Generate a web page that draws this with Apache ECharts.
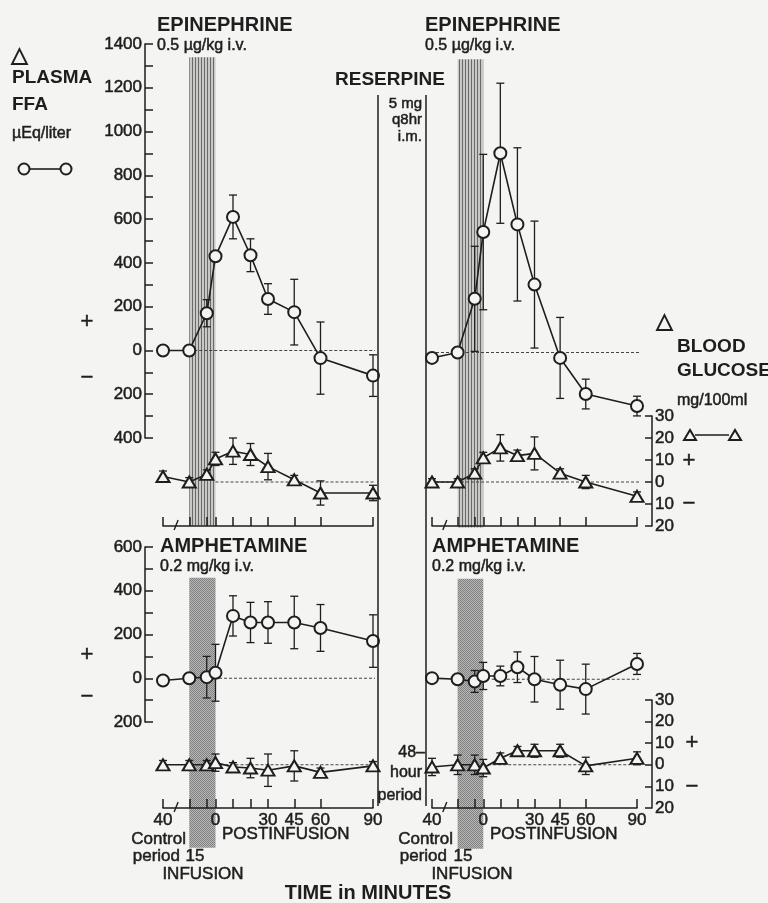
<!DOCTYPE html>
<html><head><meta charset="utf-8">
<script src="https://cdn.jsdelivr.net/npm/echarts@6/dist/echarts.min.js"></script>
<style>html,body{margin:0;padding:0;background:#f4f4f2}#c{width:768px;height:903px}</style>
</head><body><div id="c"></div>
<script>
// ---- data ----
const timePoints = [-30, -15, -5, 0, 10, 20, 30, 45, 60, 90];
const timeTickValues = [-30, -15, -5, 0, 10, 20, 30, 45, 60, 90];
const timeLabelValues = [-30, 0, 30, 45, 60, 90];
const timeLabelText = {"-30": "40", "0": "0", "30": "30", "45": "45", "60": "60", "90": "90"};

// Epinephrine, control (top-left)
const epiCtrlFFA    = [0, 0, 170, 430, 610, 435, 235, 175, -35, -115];
const epiCtrlFFAErr = [10, 10, 62, 15, 100, 75, 70, 150, 165, 95];
const epiCtrlGlu    = [2.5, 0, 3.5, 10.5, 14, 12.5, 7, 1, -5, -5];
const epiCtrlGluErr = [2.5, 2, 2, 3, 6, 5, 6, 2, 5.5, 3.5];
// Epinephrine, after reserpine (top-right)
const epiResFFA     = [-25, 0, 245, 550, 910, 585, 310, -25, -190, -245];
const epiResFFAErr  = [10, 10, 240, 355, 320, 350, 290, 185, 68, 45];
const epiResGlu     = [0, 0, 4, 11, 15.5, 12, 13, 4, 0, -6.5];
const epiResGluErr  = [1.5, 1.5, 2, 2.5, 6, 2.5, 7.5, 2, 3, 2];
// Amphetamine, control (bottom-left)
const ampCtrlFFA    = [-10, 0, 5, 25, 285, 255, 255, 255, 230, 170];
const ampCtrlFFAErr = [10, 10, 95, 130, 92, 92, 95, 120, 107, 120];
const ampCtrlGlu    = [0, 0, 0, 1, -1, -1.5, -2.5, -0.5, -3.5, -0.5];
const ampCtrlGluErr = [2, 2, 2, 4, 2, 4.5, 7.5, 7, 2, 2];
// Amphetamine, after reserpine (bottom-right)
const ampResFFA     = [5, 0, -10, 15, 15, 55, 0, -25, -45, 70];
const ampResFFAErr  = [8, 8, 50, 62, 45, 70, 104, 112, 114, 48];
const ampResGlu     = [-1, 0, 0, -1.5, 3, 6.5, 6.5, 6.5, -0.5, 3];
const ampResGluErr  = [4, 4.5, 4.5, 4, 2.5, 2, 3, 3, 4, 3];

const infusionWindow = [-15, 0];

// ---- styling ----
const INK = '#1e1e1e';
const BG = '#f4f4f2';
const FONT = 'Liberation Sans';

function makePattern(kind) {
  const c = document.createElement('canvas');
  const g = c.getContext('2d');
  if (kind === 'lines') {
    c.width = 3; c.height = 4;
    g.fillStyle = '#c8c8c5'; g.fillRect(0, 0, 3, 4);
    g.fillStyle = '#6a6a6a'; g.fillRect(0, 0, 1, 4);
  } else {
    c.width = 2; c.height = 2;
    g.fillStyle = '#b8b8b6'; g.fillRect(0, 0, 2, 2);
    g.fillStyle = '#808080'; g.fillRect(0, 0, 1, 1); g.fillRect(1, 1, 1, 1);
  }
  return { image: c, repeat: 'repeat' };
}
const patLines = makePattern('lines');
const patDots = makePattern('dots');

const grids = [
  { left: 163, width: 210, top: 44, height: 394 },   // TL FFA
  { left: 163, width: 210, top: 416, height: 110 },  // TL Glu
  { left: 432, width: 205, top: 46, height: 394 },   // TR FFA
  { left: 432, width: 205, top: 416, height: 110 },  // TR Glu
  { left: 163, width: 210, top: 547, height: 175 },  // BL FFA
  { left: 163, width: 210, top: 700, height: 108 },  // BL Glu
  { left: 432, width: 205, top: 548, height: 175 },  // BR FFA
  { left: 432, width: 205, top: 700, height: 108 }   // BR Glu
];

const labelStyle = { color: INK, fontFamily: FONT, fontSize: 17, textBorderColor: INK, textBorderWidth: 0.5 };

const xAxes = [], yAxes = [];
for (let p = 0; p < 4; p++) {
  const bottomRow = p >= 2;
  const leftCol = p % 2 === 0;
  xAxes.push({ gridIndex: 2 * p, type: 'value', min: -30, max: 90, show: false });
  xAxes.push(Object.assign({
    gridIndex: 2 * p + 1, type: 'value', min: -30, max: 90, position: 'bottom',
    splitLine: { show: false },
    axisLine: { onZero: false, lineStyle: { color: INK, width: 1.5 } },
    axisTick: { inside: true, length: 9, lineStyle: { color: INK, width: 1.5 }, customValues: timeTickValues },
    axisLabel: Object.assign({
      show: bottomRow, customValues: timeLabelValues, margin: 4,
      formatter: v => timeLabelText[String(v)]
    }, labelStyle)
  }));
  yAxes.push({
    gridIndex: 2 * p, type: 'value', position: 'left',
    min: bottomRow ? -200 : -400, max: bottomRow ? 600 : 1400, interval: 200,
    show: leftCol, offset: 18,
    splitLine: { show: false },
    axisLine: { show: true, onZero: false, lineStyle: { color: INK, width: 1.5 } },
    axisTick: { inside: true, length: 8, lineStyle: { color: INK, width: 1.5 } },
    minorTick: { show: true, splitNumber: 2, length: 8, lineStyle: { color: INK, width: 1.5 } },
    axisLabel: Object.assign({ margin: 3, formatter: v => String(Math.abs(v)) }, labelStyle)
  });
  yAxes.push({
    gridIndex: 2 * p + 1, type: 'value', min: -20, max: 30, interval: 10,
    show: !leftCol, position: 'right', offset: 15,
    splitLine: { show: false },
    axisLine: { show: true, onZero: false, lineStyle: { color: INK, width: 1.5 } },
    axisTick: { inside: true, length: 7, lineStyle: { color: INK, width: 1.5 } },
    axisLabel: Object.assign({ margin: 3, formatter: v => String(Math.abs(v)) }, labelStyle)
  });
}

function errSeries(ax, vals, errs) {
  return {
    type: 'custom', xAxisIndex: ax, yAxisIndex: ax, z: 2, silent: true,
    data: timePoints.map((t, i) => [t, vals[i], errs[i]]),
    renderItem: (params, api) => {
      const x = api.value(0), y = api.value(1), e = api.value(2);
      const hi = api.coord([x, y + e]), lo = api.coord([x, y - e]);
      const w = 4, st = { stroke: INK, lineWidth: 1.3 };
      return { type: 'group', children: [
        { type: 'line', shape: { x1: hi[0], y1: hi[1], x2: lo[0], y2: lo[1] }, style: st },
        { type: 'line', shape: { x1: hi[0] - w, y1: hi[1], x2: hi[0] + w, y2: hi[1] }, style: st },
        { type: 'line', shape: { x1: lo[0] - w, y1: lo[1], x2: lo[0] + w, y2: lo[1] }, style: st }
      ] };
    }
  };
}
function lineSeries(ax, vals, symbol, size) {
  return {
    type: 'line', xAxisIndex: ax, yAxisIndex: ax, z: 4,
    data: timePoints.map((t, i) => [t, vals[i]]),
    symbol: symbol, symbolSize: size,
    itemStyle: { color: BG, borderColor: INK, borderWidth: 2 },
    lineStyle: { color: INK, width: 1.6 }, animation: false
  };
}
function zeroLine(ax, from, to) {
  return {
    type: 'line', xAxisIndex: ax, yAxisIndex: ax, z: 1, clip: false, silent: true,
    data: [[from, 0], [to, 0]], symbol: 'none',
    lineStyle: { color: '#444', width: 1.1, type: [3, 2] }, animation: false
  };
}
function band(ax, top, bottom, pat) {
  return {
    type: 'custom', xAxisIndex: ax, yAxisIndex: ax, z: 0, silent: true, clip: false,
    data: [[infusionWindow[0], infusionWindow[1], top, bottom]],
    encode: { x: [0, 1], y: [2, 3] },
    renderItem: (params, api) => {
      const a = api.coord([api.value(0), api.value(2)]);
      const b = api.coord([api.value(1), api.value(3)]);
      return { type: 'rect', shape: { x: a[0], y: a[1], width: b[0] - a[0], height: b[1] - a[1] }, style: { fill: pat } };
    }
  };
}
function breakMark(ax) {
  return {
    type: 'custom', xAxisIndex: ax, yAxisIndex: ax, z: 5, silent: true, clip: false,
    data: [[-22.5, -20]],
    renderItem: (params, api) => {
      const c = api.coord([api.value(0), api.value(1)]);
      return { type: 'line', shape: { x1: c[0] - 2, y1: c[1] + 4, x2: c[0] + 2, y2: c[1] - 6 }, style: { stroke: INK, lineWidth: 1.4 } };
    }
  };
}

const panels = [
  { ffa: epiCtrlFFA, ffaE: epiCtrlFFAErr, glu: epiCtrlGlu, gluE: epiCtrlGluErr, fz: [-15, 93], gz: [0, 93], band: [1340, -800], pat: patLines },
  { ffa: epiResFFA, ffaE: epiResFFAErr, glu: epiResGlu, gluE: epiResGluErr, fz: [-33.5, 98.8], gz: [-33.5, 98.8], band: [1340, -800], pat: patLines },
  { ffa: ampCtrlFFA, ffaE: ampCtrlFFAErr, glu: ampCtrlGlu, gluE: ampCtrlGluErr, fz: [2, 93], gz: [0, 93], band: [460, -775], pat: patDots },
  { ffa: ampResFFA, ffaE: ampResFFAErr, glu: ampResGlu, gluE: ampResGluErr, fz: [5, 96.5], gz: [0, 86], band: [460, -775], pat: patDots }
];
const series = [];
panels.forEach((pn, p) => {
  const fa = 2 * p, ga = 2 * p + 1;
  series.push(band(fa, pn.band[0], pn.band[1], pn.pat));
  series.push(zeroLine(fa, pn.fz[0], pn.fz[1]));
  series.push(zeroLine(ga, pn.gz[0], pn.gz[1]));
  series.push(errSeries(fa, pn.ffa, pn.ffaE));
  series.push(errSeries(ga, pn.glu, pn.gluE));
  series.push(lineSeries(fa, pn.ffa, 'circle', 12));
  series.push(lineSeries(ga, pn.glu, 'triangle', [13, 11]));
  series.push(breakMark(ga));
});

function T(text, x, y, size, opts) {
  opts = opts || {};
  return {
    type: 'text', x: x, y: y, z: 100, silent: true,
    style: {
      text: text, fill: INK, fontFamily: FONT, fontSize: size,
      fontWeight: opts.bold ? 'bold' : 'normal',
      stroke: opts.bold ? null : INK, lineWidth: opts.bold ? 0 : 0.5,
      textAlign: opts.align || 'left', textVerticalAlign: 'middle'
    }
  };
}
function L(x1, y1, x2, y2, w) {
  return { type: 'line', z: 50, silent: true, shape: { x1, y1, x2, y2 }, style: { stroke: INK, lineWidth: w || 1.5 } };
}

const graphics = [
  L(378, 95, 378, 806), L(426, 95, 426, 806),
  T('EPINEPHRINE', 157, 25, 20, { bold: true }), T('0.5 µg/kg i.v.', 157, 46, 16),
  T('EPINEPHRINE', 425, 25, 20, { bold: true }), T('0.5 µg/kg i.v.', 425, 46, 16),
  T('RESERPINE', 335, 80, 19, { bold: true }),
  T('5 mg', 422, 104, 15, { align: 'right' }), T('q8hr', 422, 120, 15, { align: 'right' }), T('i.m.', 422, 137, 15, { align: 'right' }),
  T('AMPHETAMINE', 160, 546, 20, { bold: true }), T('0.2 mg/kg i.v.', 160, 567, 16),
  T('AMPHETAMINE', 432, 546, 20, { bold: true }), T('0.2 mg/kg i.v.', 432, 567, 16),
  T('△', 11, 56, 22, { bold: true }), T('PLASMA', 12, 78, 19, { bold: true }), T('FFA', 12, 105, 19, { bold: true }),
  T('µEq/liter', 12, 134, 16),
  L(29, 169, 61, 169, 1.6),
  { type: 'circle', z: 51, silent: true, shape: { cx: 24, cy: 169, r: 5.5 }, style: { fill: BG, stroke: INK, lineWidth: 2 } },
  { type: 'circle', z: 51, silent: true, shape: { cx: 66, cy: 169, r: 5.5 }, style: { fill: BG, stroke: INK, lineWidth: 2 } },
  T('+', 87, 322, 22, { align: 'center' }), T('−', 87, 378, 22, { align: 'center' }),
  T('+', 87, 655, 22, { align: 'center' }), T('−', 87, 697, 22, { align: 'center' }),
  T('△', 664, 322, 22, { bold: true, align: 'center' }),
  T('BLOOD', 677, 347, 19, { bold: true }), T('GLUCOSE', 677, 371, 19, { bold: true }),
  T('mg/100ml', 677, 401, 16),
  L(695, 435, 729, 435, 1.6),
  { type: 'polygon', z: 51, silent: true, shape: { points: [[684, 440], [690, 430], [696, 440]] }, style: { fill: BG, stroke: INK, lineWidth: 2 } },
  { type: 'polygon', z: 51, silent: true, shape: { points: [[729, 440], [735, 430], [741, 440]] }, style: { fill: BG, stroke: INK, lineWidth: 2 } },
  T('+', 689, 461, 22, { align: 'center' }), T('−', 689, 504, 22, { align: 'center' }),
  T('+', 692, 743, 22, { align: 'center' }), T('−', 692, 787, 22, { align: 'center' }),
  T('48–', 425, 753, 16, { align: 'right' }), T('hour', 422, 773, 16, { align: 'right' }), T('period', 422, 796, 16, { align: 'right' }),
  T('POSTINFUSION', 222, 834, 17), T('POSTINFUSION', 490, 834, 17),
  T('Control', 186, 839, 17, { align: 'right' }), T('period', 180, 856, 17, { align: 'right' }), T('15', 195, 856, 17, { align: 'center' }),
  T('INFUSION', 203, 874, 17, { align: 'center' }),
  T('Control', 453, 839, 17, { align: 'right' }), T('period', 447, 856, 17, { align: 'right' }), T('15', 463, 856, 17, { align: 'center' }),
  T('INFUSION', 472, 874, 17, { align: 'center' }),
  T('TIME in MINUTES', 368, 893, 20, { bold: true, align: 'center' })
];

const chart = echarts.init(document.getElementById('c'), null, { renderer: 'canvas' });
chart.setOption({
  backgroundColor: BG,
  animation: false,
  grid: grids,
  xAxis: xAxes,
  yAxis: yAxes,
  series: series,
  graphic: { elements: graphics }
});
</script>
</body></html>
